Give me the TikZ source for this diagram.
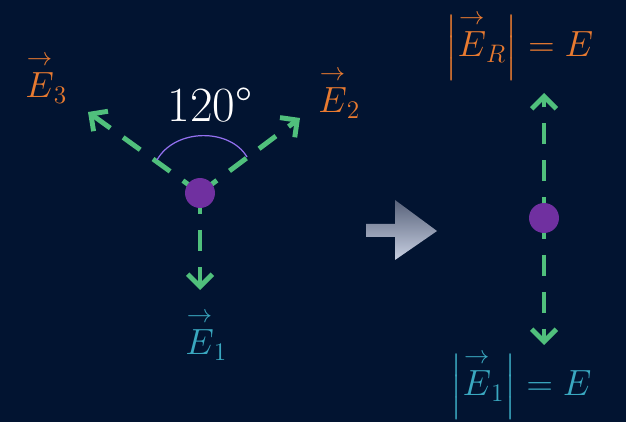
\documentclass[tikz,border=0pt]{standalone}
\usepackage{amsmath}
\usepackage{tikz}
\usetikzlibrary{arrows.meta,positioning}
\definecolor{bgnavy}{HTML}{021431}
\definecolor{fieldgreen}{HTML}{50C07C}
\definecolor{chargepurple}{HTML}{7030A0}
\definecolor{arcviolet}{HTML}{9370F0}
\definecolor{eorange}{HTML}{E87A30}
\definecolor{eteal}{HTML}{3AA8C0}
\definecolor{arrowdark}{HTML}{58627A}
\definecolor{arrowlight}{HTML}{C8D0E2}
\newcommand{\fieldvec}[1]{\overset{\rightarrow}{#1}}

\begin{document}
\begin{tikzpicture}[x=0.02cm,y=-0.02cm,
  vecline/.style={draw=fieldgreen,line width=2.8pt,dash pattern=on 12pt off 9pt,
    -{Straight Barb[length=7pt,width=14pt]}},
  charge/.style={circle,fill=chargepurple,inner sep=0pt,minimum size=0.6cm},
  lbl/.style={anchor=base west,inner sep=0pt,font=\fontsize{21}{24}\selectfont}
]
  \fill[bgnavy] (0,0) rectangle (626,422);
  \useasboundingbox (0,0) rectangle (626,422);

  % three fields around the charge
  \coordinate (c) at (200,193);
  \coordinate (t1) at (200,290);
  \coordinate (t2) at (300,118);
  \coordinate (t3) at (88,112);
  \draw[vecline] (c) -- (t1);
  \draw[vecline] (c) -- (t2);
  \draw[vecline] (c) -- (t3);
  \node[charge] (q) at (c) {};
  \draw[arcviolet,line width=0.7pt] (157,160) .. controls (175,128) and (230,128) .. (247,157);
  \node[inner sep=0pt,text=white,font=\fontsize{28}{30}\selectfont] (ang) at (210,105) {120°};
  \node[lbl,text=eorange] (e3) at (25,98) {$\fieldvec{E}_3$};
  \node[lbl,text=eorange] (e2) at (318,113) {$\fieldvec{E}_2$};
  \node[lbl,text=eteal] (e1) at (185,355) {$\fieldvec{E}_1$};

  % arrow
  \shade[top color=arrowdark,bottom color=arrowlight]
    (366,224) -- (395,224) -- (395,200) -- (437,231) -- (395,260) -- (395,237) -- (366,237) -- cycle;

  % result
  \coordinate (r) at (544,218);
  \coordinate (tu) at (544,93);
  \coordinate (td) at (544,345);
  \draw[vecline] (r) -- (tu);
  \draw[vecline] (r) -- (td);
  \node[charge] (qr) at (r) {};
  \node[lbl,text=eorange] (er) at (445,57) {$\left|\fieldvec{E}_R\right| = E$};
  \node[lbl,text=eteal] (e1r) at (450,396) {$\left|\fieldvec{E}_1\right| = E$};
\end{tikzpicture}
\end{document}
